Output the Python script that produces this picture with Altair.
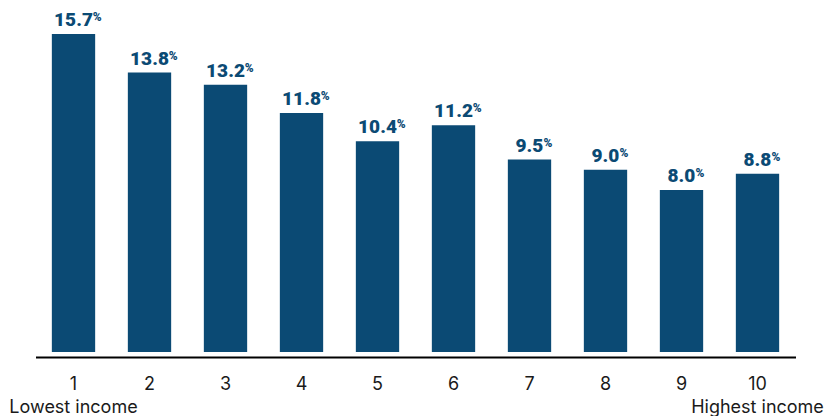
import altair as alt
import pandas as pd

deciles = ["1", "2", "3", "4", "5", "6", "7", "8", "9", "10"]
shares = [15.7, 13.8, 13.2, 11.8, 10.4, 11.2, 9.5, 9.0, 8.0, 8.8]
end_labels = {"1": "Lowest income", "10": "Highest income"}

df = pd.DataFrame({"decile": deciles, "share": shares})
df["lab"] = [f"{v:.1f}" for v in shares]

COLOR = "#0B4A74"
FONT = "Inter"
NUM_FONT = "Roboto"

label_expr = (
    "datum.value == '1' ? ['1', '" + end_labels["1"] + "'] : "
    "datum.value == '10' ? ['10', '" + end_labels["10"] + "'] : datum.value"
)

x = alt.X(
    "decile:N",
    sort=deciles,
    scale=alt.Scale(paddingInner=0.43, paddingOuter=0.215),
    axis=alt.Axis(
        title=None,
        labelAngle=0,
        ticks=False,
        domainColor="#000000",
        domainWidth=2,
        offset=5,
        labelPadding=18,
        labelFont=FONT,
        labelFontSize=18,
        labelColor="#1a1a1a",
        labelLineHeight=23,
        labelExpr=label_expr,
    ),
)
y = alt.Y("share:Q", scale=alt.Scale(domain=[0, 17.38], nice=False), axis=None)

base = alt.Chart(df)

bars = base.mark_bar(color=COLOR).encode(x=x, y=y)

nums = base.mark_text(
    font=NUM_FONT, fontSize=19, fontWeight=900, color=COLOR,
    baseline="alphabetic", align="center", dy=-8,
).encode(x=x, y=y, text="lab:N")

pct = base.mark_text(
    font=NUM_FONT, fontSize=12, fontWeight=900, color=COLOR,
    baseline="alphabetic", align="left", dy=-13,
).transform_calculate(
    off="21.7 + (length(datum.lab) - 1) * 5.2 + 2.5 + 1"
).encode(
    x=x, y=y, text=alt.value("%"),
    xOffset=alt.XOffset("off:Q", scale=None),
)

chart = alt.layer(bars, nums, pct).properties(
    width=760,
    height=352,
    padding={"left": 35.5, "top": 0, "right": 29.5, "bottom": 64},
    autosize="none",
    background="white",
).configure_view(stroke=None)

chart.save("out.html", embed_options={"renderer": "svg", "actions": False})
